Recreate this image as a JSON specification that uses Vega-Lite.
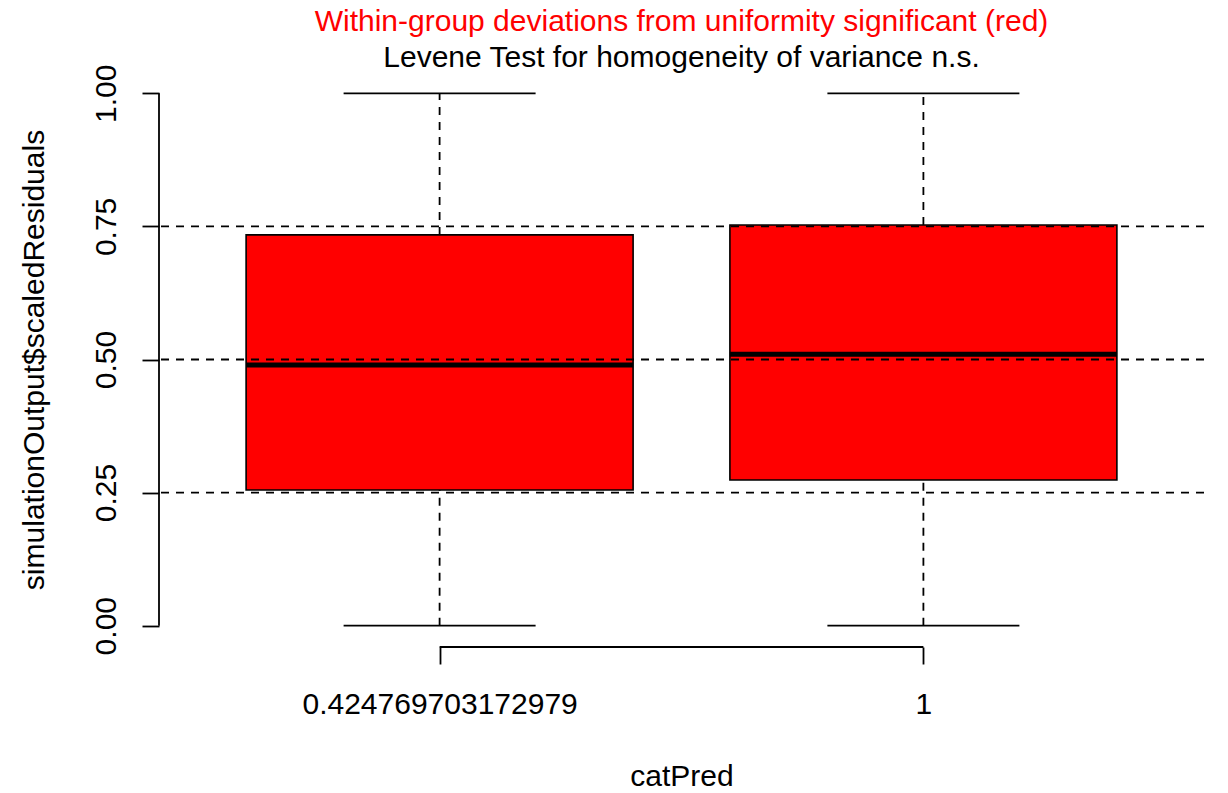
{
  "$schema": "https://vega.github.io/schema/vega-lite/v6.json",
  "width": 1045,
  "height": 575,
  "autosize": {"type": "none"},
  "padding": {"left": 159, "top": 72, "right": 24, "bottom": 146},
  "background": "white",
  "config": {
    "view": {"stroke": null},
    "font": "Liberation Sans"
  },
  "title": {
    "text": "Within-group deviations from uniformity significant (red)",
    "subtitle": "Levene Test for homogeneity of variance n.s.",
    "color": "#ff0000",
    "subtitleColor": "#000000",
    "fontSize": 30,
    "subtitleFontSize": 30,
    "fontWeight": "normal",
    "subtitleFontWeight": "normal",
    "font": "Liberation Sans",
    "subtitleFont": "Liberation Sans",
    "anchor": "middle",
    "offset": -9,
    "subtitlePadding": 6
  },
  "datasets": {
    "boxes": [
      {"group": "0.424769703172979", "idx": 1, "lo": 0, "q1": 0.255, "med": 0.4895, "q3": 0.734, "hi": 1},
      {"group": "1", "idx": 2, "lo": 0, "q1": 0.2737, "med": 0.510, "q3": 0.7526, "hi": 1}
    ],
    "refs": [{"h": 0.25}, {"h": 0.5}, {"h": 0.75}]
  },
  "layer": [
    {
      "data": {"name": "boxes"},
      "mark": {"type": "bar", "width": 387, "fill": "#ff0000", "stroke": "black", "strokeWidth": 1.6, "opacity": 1},
      "encoding": {
        "x": {
          "field": "idx",
          "type": "quantitative",
          "scale": {"domain": [0.42, 2.58], "nice": false, "zero": false, "padding": 0},
          "axis": {
            "values": [1, 2],
            "labelExpr": "datum.value == 1 ? '0.424769703172979' : '1'",
            "labelLimit": 600,
            "domain": false,
            "grid": false,
            "tickSize": 17,
            "tickWidth": 1.8,
            "tickColor": "black",
            "labelFontSize": 30,
            "labelColor": "black",
            "labelFont": "Liberation Sans",
            "labelPadding": 25,
            "title": "catPred",
            "titleFontSize": 30,
            "titleFontWeight": "normal",
            "titleColor": "black",
            "titleFont": "Liberation Sans",
            "titlePadding": 42
          }
        },
        "y": {
          "field": "q1",
          "type": "quantitative",
          "scale": {"domain": [-0.04, 1.04], "nice": false, "zero": false, "padding": 0},
          "axis": {
            "values": [0, 0.25, 0.5, 0.75, 1],
            "format": ".2f",
            "domain": false,
            "grid": false,
            "tickSize": 17,
            "tickWidth": 1.8,
            "tickColor": "black",
            "labelAngle": -90,
            "labelFontSize": 30,
            "labelColor": "black",
            "labelFont": "Liberation Sans",
            "labelPadding": 21,
            "title": "simulationOutput$scaledResiduals",
            "titleFontSize": 30,
            "titleFontWeight": "normal",
            "titleColor": "black",
            "titleFont": "Liberation Sans",
            "titlePadding": 42
          }
        },
        "y2": {"field": "q3"}
      }
    },
    {
      "data": {"name": "boxes"},
      "mark": {"type": "tick", "orient": "horizontal", "size": 387, "thickness": 5, "color": "black", "opacity": 1},
      "encoding": {"x": {"field": "idx", "type": "quantitative"}, "y": {"field": "med", "type": "quantitative"}}
    },
    {
      "data": {"name": "boxes"},
      "mark": {"type": "rule", "color": "black", "strokeWidth": 1.8, "strokeDash": [8, 7], "opacity": 1},
      "encoding": {"x": {"field": "idx", "type": "quantitative"}, "y": {"field": "q3", "type": "quantitative"}, "y2": {"field": "hi"}}
    },
    {
      "data": {"name": "boxes"},
      "mark": {"type": "rule", "color": "black", "strokeWidth": 1.8, "strokeDash": [8, 7], "opacity": 1},
      "encoding": {"x": {"field": "idx", "type": "quantitative"}, "y": {"field": "lo", "type": "quantitative"}, "y2": {"field": "q1"}}
    },
    {
      "data": {"name": "boxes"},
      "mark": {"type": "tick", "orient": "horizontal", "size": 192, "thickness": 1.8, "color": "black", "opacity": 1},
      "encoding": {"x": {"field": "idx", "type": "quantitative"}, "y": {"field": "hi", "type": "quantitative"}}
    },
    {
      "data": {"name": "boxes"},
      "mark": {"type": "tick", "orient": "horizontal", "size": 192, "thickness": 1.8, "color": "black", "opacity": 1},
      "encoding": {"x": {"field": "idx", "type": "quantitative"}, "y": {"field": "lo", "type": "quantitative"}}
    },
    {
      "data": {"name": "refs"},
      "mark": {"type": "rule", "color": "black", "strokeWidth": 1.8, "strokeDash": [8, 7], "opacity": 1},
      "encoding": {"y": {"field": "h", "type": "quantitative"}}
    },
    {
      "data": {"values": [{"axis": "y"}]},
      "mark": {"type": "rule", "color": "black", "strokeWidth": 1.8, "opacity": 1},
      "encoding": {"x": {"datum": 0.42, "type": "quantitative"}, "y": {"datum": 0, "type": "quantitative"}, "y2": {"datum": 1}}
    },
    {
      "data": {"values": [{"axis": "x"}]},
      "mark": {"type": "rule", "color": "black", "strokeWidth": 1.8, "opacity": 1},
      "encoding": {"x": {"datum": 1, "type": "quantitative"}, "x2": {"datum": 2}, "y": {"datum": -0.04, "type": "quantitative"}}
    }
  ]
}
